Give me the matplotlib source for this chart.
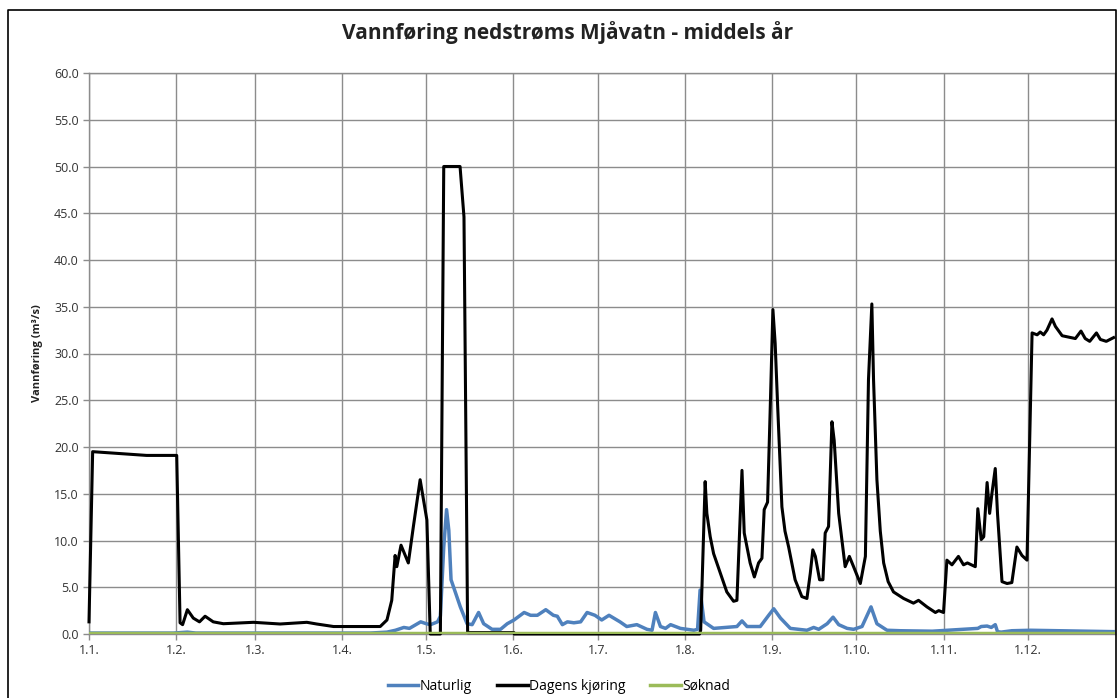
import matplotlib
matplotlib.use("Agg")
import matplotlib.pyplot as plt
from matplotlib.lines import Line2D

plt.rcParams['font.family'] = ['Open Sans', 'DejaVu Sans']

# day of year (0 = 1. jan) and flow (m3/s)
naturlig_day = [0, 30, 35, 38, 100, 106, 109, 112, 114, 118, 120, 121.5, 124, 125, 126.2, 127.2, 128, 128.8,
                130.4, 132.1, 134.5, 136.3, 138.6, 140.4, 143.4, 146.4, 148.8, 151.2, 154.8, 157.1, 159.5,
                162.5, 165.2, 166.6, 168.4, 170.2, 172.5, 174.9, 177.2, 180.0, 182.4, 185.0, 188.9, 191.3,
                194.9, 198.5, 200.3, 201.5, 203.3, 205.1, 206.9, 210.4, 215.2, 216.5, 217.4, 218.8, 222.2,
                230.5, 232.3, 234.1, 238.8, 241.8, 243.6, 246.0, 249.5, 255.4, 257.8, 259.6, 262.6, 264.7,
                266.7, 269.7, 272.0, 275.0, 278.2, 280.3, 283.9, 288.6, 300, 316.2, 317.4, 319.5, 321.0,
                322.4, 323.2, 324.5, 328.3, 335, 345, 355, 365]
naturlig_val = [0.1, 0.1, 0.2, 0.1, 0.1, 0.2, 0.4, 0.7, 0.6, 1.3, 1.1, 1.0, 1.3, 1.9, 9.3, 13.3, 11.1, 5.8,
                4.4, 2.9, 1.1, 1.0, 2.3, 1.1, 0.5, 0.5, 1.1, 1.5, 2.3, 2.0, 2.0, 2.6, 2.0, 1.9, 1.0, 1.3,
                1.2, 1.3, 2.3, 2.0, 1.5, 2.0, 1.3, 0.8, 1.0, 0.5, 0.4, 2.3, 0.8, 0.6, 1.0, 0.6, 0.4, 0.5,
                4.7, 1.3, 0.6, 0.8, 1.4, 0.8, 0.8, 2.0, 2.7, 1.7, 0.6, 0.4, 0.7, 0.5, 1.1, 1.8, 1.0, 0.6,
                0.5, 0.8, 2.9, 1.1, 0.4, 0.35, 0.3, 0.6, 0.8, 0.85, 0.7, 1.0, 0.25, 0.2, 0.35, 0.4, 0.35,
                0.3, 0.25]

dagens_day = [0, 1.3, 11, 20.5, 31.2, 32.4, 33.3, 35, 37.1, 39.3, 41.3, 44.2, 47.8, 58.5, 68, 77.5, 81,
              87, 103.6, 106, 107.7, 108.9, 109.5, 111, 113.6, 115.4, 117.8, 120.2, 121.4, 125.0, 126.2,
              132.0, 133.4, 134.7, 151.2, 151.3, 217.2, 217.6, 219.2, 219.8, 221.0, 222.2, 224.6, 226.9,
              229.3, 230.5, 232.3, 233.1, 235.2, 236.7, 238.2, 239.4, 240.2, 241.4, 242.3, 243.3, 244.1,
              245.0, 246.5, 247.6, 248.9, 251.2, 253.6, 255.4, 256.6, 257.5, 258.4, 259.9, 261.1, 261.9,
              263.1, 264.3, 265.1, 266.7, 269.0, 270.5, 272.0, 274.4, 276.2, 277.3, 278.5, 279.1, 280.3,
              281.5, 282.7, 284.3, 286.2, 289.8, 293.3, 295.1, 298.1, 301.1, 302.3, 304.0, 305.2, 307.0,
              309.3, 311.1, 312.5, 315.3, 316.2, 317.4, 318.3, 319.5, 320.4, 321.2, 322.4, 323.2, 324.8,
              326.6, 328.3, 330.1, 331.9, 333.7, 335.5, 337.3, 338.4, 339.6, 340.8, 342.6, 343.8, 346.2,
              350.9, 352.9, 354.4, 356.0, 358.4, 359.8, 361.9, 364.5]
dagens_val = [1.3, 19.5, 19.3, 19.1, 19.1, 1.2, 1.0, 2.6, 1.7, 1.3, 1.9, 1.3, 1.1, 1.25, 1.07, 1.25, 1.07,
              0.8, 0.8, 1.5, 3.6, 8.4, 7.2, 9.5, 7.6, 11.5, 16.5, 12.2, 0.0, 0.0, 50.0,
              50.0, 44.6, 0.15, 0.15, 0.0, 0.0, 0.4, 16.3, 12.9, 10.4, 8.6, 6.5, 4.5,
              3.5, 3.6, 17.5, 10.8, 7.6, 6.1, 7.6, 8.1, 13.3, 14.1, 23.6, 34.7, 31.1,
              24.3, 13.6, 11.0, 9.3, 5.8, 4.0, 3.8, 6.5, 9.0, 8.3, 5.8, 5.8, 10.8,
              11.5, 22.7, 20.7, 12.9, 7.2, 8.3, 7.2, 5.4, 8.3, 27.2, 35.3, 27.2, 16.5,
              11.0, 7.6, 5.6, 4.5, 3.8, 3.3, 3.6, 2.9, 2.3, 2.5, 2.3, 7.9, 7.4,
              8.3, 7.4, 7.6, 7.2, 13.4, 10.1, 10.4, 16.2, 12.9, 15.0, 17.7, 12.9, 5.6,
              5.4, 5.5, 9.3, 8.4, 7.9, 32.2, 32.0, 32.3, 32.0, 32.5, 33.7, 32.9, 31.9,
              31.6, 32.4, 31.6, 31.3, 32.2, 31.5, 31.3, 31.7]

soknad_day = [0, 365]
soknad_val = [0.15, 0.15]

month_days = [0, 31, 59, 90, 120, 151, 181, 212, 243, 273, 304, 334]
month_labels = ["1.1.", "1.2.", "1.3.", "1.4.", "1.5.", "1.6.", "1.7.", "1.8.", "1.9.", "1.10.",
                "1.11.", "1.12."]

blue = "#4F81BD"
green = "#9BBB59"
grid_col = "#8c8c8c"

fig = plt.figure(figsize=(11.19, 6.98), dpi=100)
ax = fig.add_axes([89 / 1119, 1 - 634 / 698, (1115 - 89) / 1119, (634 - 73) / 698])

ax.plot(naturlig_day, naturlig_val, color=blue, lw=2.5, zorder=3, solid_joinstyle="round")
ax.plot(dagens_day, dagens_val, color="black", lw=2.2, zorder=4, solid_joinstyle="round", clip_on=False)
ax.plot(soknad_day, soknad_val, color=green, lw=2.5, zorder=5)

ax.set_xlim(0, 365)
ax.set_ylim(0, 60)
ax.set_xticks(month_days)
ax.set_xticklabels(month_labels)
ax.set_yticks(range(0, 61, 5))
ax.set_yticklabels([f"{v:.1f}" for v in range(0, 61, 5)])
ax.grid(True, color=grid_col, lw=1.0)
for s in ax.spines.values():
    s.set_color(grid_col)
    s.set_linewidth(1.0)
ax.tick_params(axis="both", colors=grid_col, labelcolor="#333333", labelsize=9, length=4, width=1)
ax.set_axisbelow(True)

ax.set_ylabel("Vannføring (m³/s)", fontsize=8, fontweight="bold", color="#222222", labelpad=8)

fig.text(0.507, 1 - 33 / 698, "Vannføring nedstrøms Mjåvatn - middels år", ha="center", va="center",
         fontsize=15, fontweight="bold", color="#222222")

handles = [Line2D([], [], color=blue, lw=2.5),
           Line2D([], [], color="black", lw=2.5),
           Line2D([], [], color=green, lw=2.5)]
fig.legend(handles, ["Naturlig", "Dagens kjøring", "Søknad"], loc="center",
           bbox_to_anchor=(559 / 1119, 1 - 686 / 698), ncol=3, frameon=False, fontsize=10,
           handlelength=2.2, handletextpad=0.1, columnspacing=1.8)

# outer chart frame
fig.add_artist(Line2D([8 / 1119, 8 / 1119, 1116 / 1119, 1116 / 1119], [0, 1 - 10 / 698, 1 - 10 / 698, 0],
                      transform=fig.transFigure, color="black", lw=1.2))

fig.savefig("out.png", dpi=100)
